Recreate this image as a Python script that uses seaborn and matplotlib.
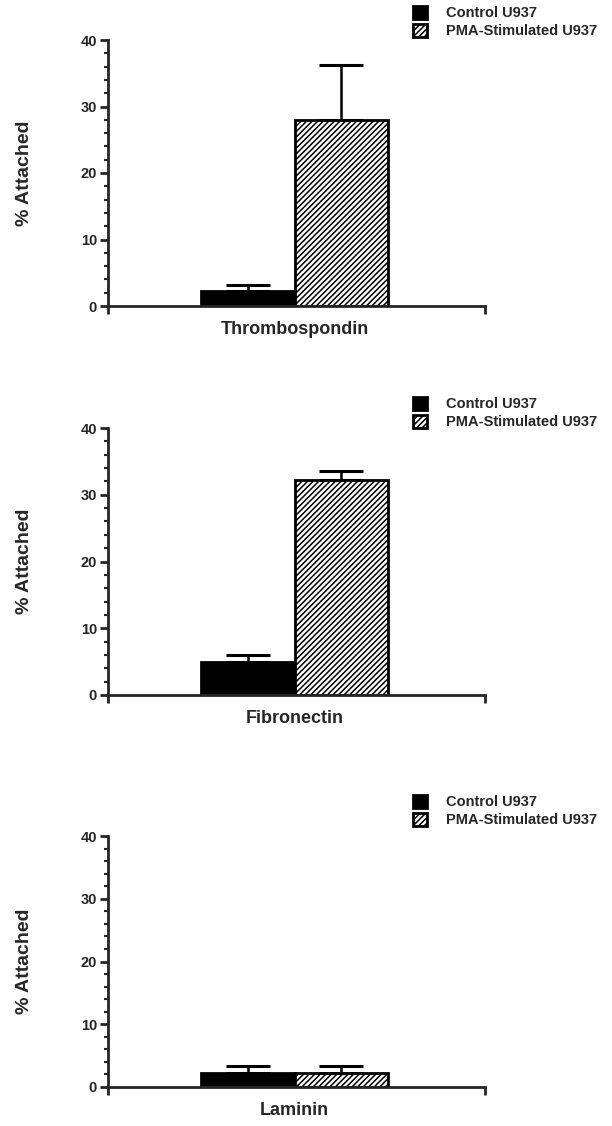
import numpy as np
import pandas as pd
import matplotlib
matplotlib.use("Agg")
import matplotlib.pyplot as plt
import seaborn as sns
from matplotlib.ticker import MultipleLocator, FixedLocator

# data (% attached, mean and upper error)
substrates = ["Thrombospondin", "Fibronectin", "Laminin"]
cells = ["Control U937", "PMA-Stimulated U937"]
control_mean = [2.2, 5.0, 2.3]
control_err = [1.0, 1.0, 1.0]
pma_mean = [27.9, 32.2, 2.3]
pma_err = [8.3, 1.3, 1.0]

sns.set_style("ticks")
plt.rcParams["font.family"] = ["Liberation Sans", "DejaVu Sans"]
plt.rcParams["hatch.linewidth"] = 1.1
plt.rcParams["hatch.color"] = "black"

fig = plt.figure(figsize=(6.12, 11.26), dpi=100)
H = 1126.0
W = 612.0

# axes boxes in pixels: (y of 40, y of 0), legend first-row y
panels = [(40, 306, 14), (428, 695, 405), (836, 1087, 803)]

for i, sub in enumerate(substrates):
    top, bot, leg_y = panels[i]
    ax = fig.add_axes([108 / W, 1 - bot / H, (485 - 108) / W, (bot - top) / H])

    df = pd.DataFrame({
        "substrate": [sub, sub],
        "cell": cells,
        "pct": [control_mean[i], pma_mean[i]],
    })
    sns.barplot(data=df, x="substrate", y="pct", hue="cell", hue_order=cells,
                palette=["black", "white"], edgecolor="black", linewidth=2,
                width=0.8, legend=False, ax=ax)

    for bar in ax.containers[1]:
        bar.set_hatch("//////")

    errs = [control_err[i], pma_err[i]]
    for cont, e in zip(ax.containers, errs):
        bar = cont[0]
        xc = bar.get_x() + bar.get_width() / 2
        h = bar.get_height()
        ax.errorbar([xc], [h], yerr=[[0], [e]], fmt="none", ecolor="black",
                    elinewidth=1.8, capsize=16, capthick=2.2, zorder=1)

    ax.set_xlim(-0.8, 0.815)
    ax.set_ylim(0, 40)
    ax.yaxis.set_major_locator(MultipleLocator(10))
    ax.yaxis.set_minor_locator(MultipleLocator(2))
    ax.tick_params(axis="y", which="major", length=6, width=2, labelsize=10.5, pad=2)
    ax.tick_params(axis="y", which="minor", length=3, width=1.5)
    ax.xaxis.set_minor_locator(FixedLocator([-0.8, 0.815]))
    ax.tick_params(axis="x", which="major", length=0, labelsize=13, pad=11)
    ax.tick_params(axis="x", which="minor", length=6, width=2)
    for lab in ax.get_xticklabels():
        lab.set_fontweight("bold")
    for lab in ax.get_yticklabels():
        lab.set_fontweight("bold")

    sns.despine(ax=ax)
    ax.spines["left"].set_linewidth(2)
    ax.spines["bottom"].set_linewidth(2)

    ax.set_xlabel("")
    ax.set_ylabel("% Attached", fontsize=14, fontweight="bold", labelpad=34)

    ax.legend(handles=[ax.containers[0][0], ax.containers[1][0]], labels=cells,
              loc="upper left", bbox_to_anchor=(413 / W, 1 - (leg_y - 8) / H),
              bbox_transform=fig.transFigure, frameon=False,
              prop={"weight": "bold", "size": 10.5}, handlelength=0.95,
              handleheight=0.95, handletextpad=1.3, labelspacing=0.25,
              borderpad=0, borderaxespad=0)

fig.savefig("out.png", dpi=100)
